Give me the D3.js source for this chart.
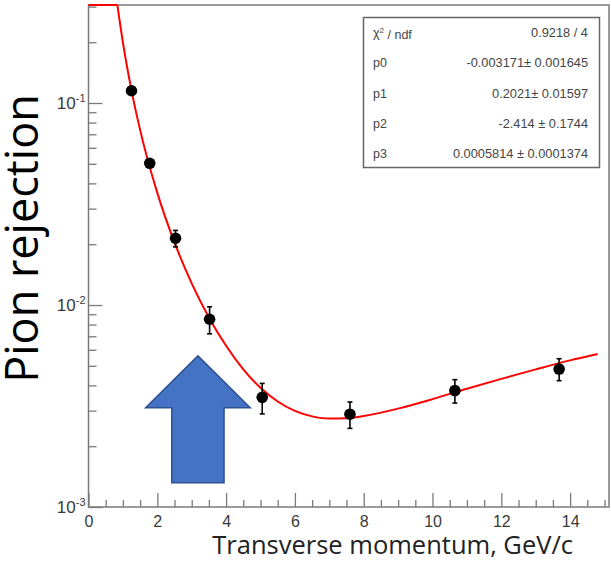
<!DOCTYPE html>
<html>
<head>
<meta charset="utf-8">
<script src="https://cdn.jsdelivr.net/npm/d3@7"></script>
<style>
  body { margin: 0; background: #fff; }
  svg { display: block; }
</style>
</head>
<body>
<svg></svg>
<script>
// measured points (pT, rejection, error)
var ptValues = [1.25, 1.78, 2.53, 3.52, 5.05, 7.6, 10.65, 13.68];
var rejValues = [0.115, 0.0503, 0.0214, 0.0085, 0.00349, 0.00288, 0.00377, 0.00482];
var rejErrors = [0.004, 0.002, 0.002, 0.0013, 0.0006, 0.00043, 0.0005, 0.0006];

// fit curve
var fitX = [0.84, 1.0, 1.25, 1.5, 2.0, 2.5, 3.0, 3.5, 4.0, 4.5, 5.0, 5.5, 6.0, 6.5, 7.0, 7.5, 8.0, 9.0, 10.0, 11.0, 12.0, 13.0, 14.0, 14.8];
var fitY = [0.305, 0.1995, 0.1155, 0.0736, 0.0359, 0.0204, 0.0128, 0.00868, 0.00628, 0.0048, 0.00389, 0.00333, 0.00299, 0.00281, 0.00274, 0.00275, 0.00282, 0.00307, 0.00342, 0.00385, 0.00431, 0.0048, 0.00532, 0.00572];

var xTicks = [0, 2, 4, 6, 8, 10, 12, 14];
var yDecades = [-3, -2, -1];

var statNames = ["ndf", "p0", "p1", "p2", "p3"];
var statValues = ["0.9218 / 4", "-0.003171\u00b1 0.001645", "0.2021\u00b1 0.01597", "-2.414 \u00b1 0.1744", "0.0005814 \u00b1 0.0001374"];

function main() {
    var width = 611, height = 570;
    var left = 88.5, right = 609, frameTop = 5, bottom = 507;
    var axisColor = "#7a7a7a";
    var labelColor = "#3a3a3a";

    var svg = d3.select("svg").attr("width", width).attr("height", height);

    var x = d3.scaleLinear().domain([0, 15.13]).range([left, right]);
    var yMax = Math.pow(10, -1 + (103 - frameTop) / 202);
    var y = d3.scaleLog().domain([1e-3, yMax]).range([bottom, frameTop]);

    // frame
    svg.append("rect")
        .attr("x", left).attr("y", frameTop)
        .attr("width", right - left).attr("height", bottom - frameTop)
        .attr("fill", "none").attr("stroke", axisColor).attr("stroke-width", 1.5);

    // x axis: minor ticks every 0.5
    var xMinor = d3.range(0, 15.01, 0.5).filter(v => v % 2 !== 0);
    svg.append("g")
        .attr("transform", "translate(0," + bottom + ")")
        .call(d3.axisBottom(x).tickValues(xMinor).tickSize(-7).tickFormat(""))
        .call(g => g.select(".domain").remove())
        .call(g => g.selectAll("text").remove())
        .selectAll("line").attr("stroke", axisColor).attr("stroke-width", 1.3);

    var xAxis = svg.append("g")
        .attr("transform", "translate(0," + bottom + ")")
        .call(d3.axisBottom(x).tickValues(xTicks).tickSize(-14).tickPadding(9).tickFormat(d3.format("d")));
    xAxis.select(".domain").remove();
    xAxis.selectAll("line").attr("stroke", axisColor).attr("stroke-width", 1.3);
    xAxis.selectAll("text")
        .attr("fill", labelColor)
        .style("font-family", "'Liberation Sans', Arial, sans-serif")
        .style("font-size", "16px");

    // y axis: minor ticks 2..9 per decade
    var yMinor = [];
    yDecades.forEach(function (d) {
        for (var k = 2; k <= 9; k++) {
            var v = k * Math.pow(10, d);
            if (v <= yMax) yMinor.push(v);
        }
    });
    svg.append("g")
        .attr("transform", "translate(" + left + ",0)")
        .call(d3.axisLeft(y).tickValues(yMinor).tickSize(-8).tickFormat(""))
        .call(g => g.select(".domain").remove())
        .call(g => g.selectAll("text").remove())
        .selectAll("line").attr("stroke", axisColor).attr("stroke-width", 1.3);

    var yAxis = svg.append("g")
        .attr("transform", "translate(" + left + ",0)")
        .call(d3.axisLeft(y).tickValues(yDecades.map(d => Math.pow(10, d))).tickSize(-14).tickFormat(""));
    yAxis.select(".domain").remove();
    yAxis.selectAll("line").attr("stroke", axisColor).attr("stroke-width", 1.3);
    yAxis.selectAll(".tick text").each(function (d) {
        var t = d3.select(this)
            .attr("fill", labelColor)
            .attr("x", -3)
            .attr("dy", "0.3em")
            .attr("text-anchor", "end")
            .style("font-family", "'Liberation Sans', Arial, sans-serif")
            .style("font-size", "17px");
        t.append("tspan").text("10");
        t.append("tspan").attr("dy", "-0.6em").style("font-size", "11px").text(Math.round(Math.log10(d)));
    });

    // fit curve (clipped flat at the top of the frame)
    var flat = d3.line().x(d => x(d[0])).y(d => y(d[1]));
    svg.append("path")
        .attr("d", flat([[0, yMax], [fitX[0], yMax]]))
        .attr("fill", "none").attr("stroke", "#ff0000").attr("stroke-width", 2);

    var fitData = fitX.map((v, i) => [v, fitY[i]]);
    var curve = d3.line().x(d => x(d[0])).y(d => y(d[1])).curve(d3.curveMonotoneX);
    svg.append("path")
        .attr("d", curve(fitData))
        .attr("fill", "none").attr("stroke", "#ff0000").attr("stroke-width", 2);

    // data points with error bars
    var points = ptValues.map((v, i) => ({ x: v, y: rejValues[i], e: rejErrors[i] }));
    var pg = svg.append("g").attr("class", "points");
    pg.selectAll("line.err")
        .data(points).enter().append("line")
        .attr("class", "err")
        .attr("x1", d => x(d.x)).attr("x2", d => x(d.x))
        .attr("y1", d => y(d.y + d.e)).attr("y2", d => y(d.y - d.e))
        .attr("stroke", "#000").attr("stroke-width", 1.6);
    [1, -1].forEach(function (s) {
        pg.selectAll("line.cap" + (s > 0 ? "u" : "d"))
            .data(points).enter().append("line")
            .attr("class", "cap" + (s > 0 ? "u" : "d"))
            .attr("x1", d => x(d.x) - 2.5).attr("x2", d => x(d.x) + 2.5)
            .attr("y1", d => y(d.y + s * d.e)).attr("y2", d => y(d.y + s * d.e))
            .attr("stroke", "#000").attr("stroke-width", 1.6);
    });
    pg.selectAll("circle")
        .data(points).enter().append("circle")
        .attr("cx", d => x(d.x)).attr("cy", d => y(d.y))
        .attr("r", 5.8).attr("fill", "#000");

    // stats box
    var box = svg.append("g");
    box.append("rect")
        .attr("x", 363.5).attr("y", 17.5).attr("width", 236).attr("height", 150)
        .attr("fill", "#fff").attr("stroke", "#666").attr("stroke-width", 1.5);
    statNames.forEach(function (n, i) {
        var yy = 37 + i * 30.3;
        var lab = box.append("text")
            .attr("x", 373).attr("y", yy)
            .attr("fill", "#444")
            .style("font-family", "'Liberation Sans', Arial, sans-serif")
            .style("font-size", "12.5px");
        if (i === 0) {
            lab.append("tspan").text("\u03c7");
            lab.append("tspan").attr("dy", "-0.5em").style("font-size", "8px").text("2");
            lab.append("tspan").attr("dy", "0.5em").text(" / ndf");
        } else {
            lab.text(n);
        }
        box.append("text")
            .attr("x", 588).attr("y", yy)
            .attr("text-anchor", "end")
            .attr("fill", "#444")
            .style("font-family", "'Liberation Sans', Arial, sans-serif")
            .style("font-size", "12.8px")
            .text(statValues[i]);
    });

    // blue arrow annotation
    var ax = 3.18, aHead = 1.52, aShaft = 0.76;
    var aTip = 0.0056, aNeck = 0.0031, aBase = 0.00132;
    var arrowPts = [
        [ax, aTip], [ax + aHead, aNeck], [ax + aShaft, aNeck], [ax + aShaft, aBase],
        [ax - aShaft, aBase], [ax - aShaft, aNeck], [ax - aHead, aNeck]
    ];
    svg.append("path")
        .attr("d", d3.line().x(d => x(d[0])).y(d => y(d[1]))(arrowPts) + "Z")
        .attr("fill", "#4472c4").attr("stroke", "#2f528f").attr("stroke-width", 1.5);

    // axis titles
    svg.append("text")
        .attr("x", 573).attr("y", 554)
        .attr("text-anchor", "end")
        .attr("fill", "#222")
        .style("font-family", "'Open Sans', sans-serif")
        .style("font-size", "25.5px")
        .text("Transverse momentum, GeV/c");

    svg.append("text")
        .attr("transform", "translate(38,238.5) rotate(-90)")
        .attr("text-anchor", "middle")
        .attr("fill", "#000")
        .style("font-family", "'Open Sans', sans-serif")
        .style("font-size", "45px")
        .text("Pion rejection");
}

main();
</script>
</body>
</html>
